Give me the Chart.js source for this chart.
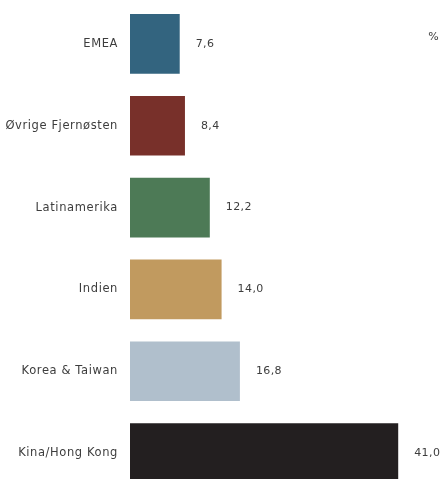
<!DOCTYPE html>
<html lang="no">
<head>
    <meta charset="UTF-8">
    <title>Regioner</title>
    <style>
        html, body {
            margin: 0;
            padding: 0;
            background: #fff;
            overflow: hidden;
        }
        canvas { display: block; }
    </style>
    <script src="https://cdn.jsdelivr.net/npm/chart.js"></script>
</head>
<body>
    <canvas id="chart" width="444" height="494"></canvas>

    <script>
        // Data
        const regions = ['EMEA', 'Øvrige Fjernøsten', 'Latinamerika', 'Indien', 'Korea & Taiwan', 'Kina/Hong Kong'];
        const shares = [7.6, 8.4, 12.2, 14.0, 16.8, 41.0];
        const barColors = ['#33647f', '#78302a', '#4d7a56', '#c19a5f', '#b0bfcc', '#231f20'];
        const unitLabel = '%';

        const fontFamily = '"DejaVu Sans", sans-serif';
        const textColor = '#3d3d3d';

        // wider letter spacing, the original font is a wide geometric sans
        const spacing = {
            id: 'spacing',
            beforeDraw(chart) { chart.ctx.letterSpacing = '0.6px'; }
        };

        // value labels next to each bar + unit in the corner
        const valueLabels = {
            id: 'valueLabels',
            afterDatasetsDraw(chart) {
                const ctx = chart.ctx;
                const meta = chart.getDatasetMeta(0);
                ctx.save();
                ctx.letterSpacing = '0.4px';
                ctx.font = '11px ' + fontFamily;
                ctx.fillStyle = textColor;
                ctx.textAlign = 'left';
                ctx.textBaseline = 'middle';
                meta.data.forEach((bar, i) => {
                    ctx.fillText(shares[i].toFixed(1).replace('.', ','), bar.x + 16, bar.y);
                });
                ctx.textAlign = 'right';
                ctx.fillText(unitLabel, 439, 37);
                ctx.restore();
            }
        };

        new Chart(document.getElementById('chart'), {
            type: 'bar',
            data: {
                labels: regions,
                datasets: [{
                    data: shares,
                    backgroundColor: barColors,
                    borderWidth: 0,
                    barPercentage: 0.73,
                    categoryPercentage: 1
                }]
            },
            options: {
                indexAxis: 'y',
                responsive: false,
                animation: false,
                layout: { padding: { top: 3, right: 0, bottom: 0, left: 0 } },
                plugins: {
                    legend: { display: false },
                    tooltip: { enabled: false }
                },
                scales: {
                    x: {
                        display: false,
                        min: 0,
                        max: 48
                    },
                    y: {
                        grid: { display: false, drawTicks: false },
                        border: { display: false },
                        ticks: {
                            padding: 12,
                            color: textColor,
                            font: { family: fontFamily, size: 11.5 }
                        },
                        afterFit(scale) {
                            scale.width = 130;
                            scale.paddingTop = 0;
                            scale.paddingBottom = 0;
                        }
                    }
                }
            },
            plugins: [spacing, valueLabels]
        });
    </script>
</body>
</html>
